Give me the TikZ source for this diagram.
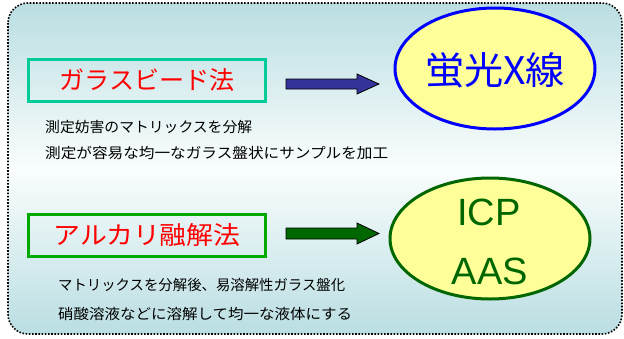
\documentclass[tikz,border=0pt]{standalone}
\usepackage{fontspec}
\setmainfont{Noto Sans CJK JP}
\newfontfamily\latinf{Liberation Sans}
\usetikzlibrary{shapes.geometric}
\newcommand{\fitw}[2]{\resizebox{#1}{\height}{#2}}
\definecolor{bgedge}{RGB}{186,222,226}
\definecolor{bgmid}{RGB}{250,253,253}
\definecolor{boxone}{RGB}{0,204,153}
\definecolor{boxtwo}{RGB}{0,170,0}
\definecolor{navy}{RGB}{51,51,153}
\definecolor{dgreen}{RGB}{0,102,0}
\definecolor{pale}{RGB}{255,255,153}
\tikzset{
  methodbox/.style={draw, line width=3pt, minimum width=237pt, minimum height=42pt, inner sep=0pt, text=red, font=\fontsize{25}{30}\selectfont},
  desc/.style={anchor=west, inner sep=0pt, font=\fontsize{14.5}{17}\selectfont},
  oval/.style={ellipse, draw, line width=3pt, fill=pale, minimum width=200pt, minimum height=121pt, inner sep=0pt},
  bigarrow/.style={draw=black, line width=0.8pt},
}
\begin{document}
\begin{tikzpicture}[x=1pt,y=-1pt]
\useasboundingbox (0,0) rectangle (624,338);
% background frame
\shade[rounded corners=20pt, top color=bgedge, bottom color=bgedge, middle color=bgmid] (8,3) rectangle (622,334);
\draw[rounded corners=20pt, line width=1.6pt, dash pattern=on 1.6pt off 1.6pt] (8,3) rectangle (622,334);

% top row
\node[methodbox, draw=boxone] (glass) at (147,80.5) {\fitw{175pt}{ガラスビード法}};
\node[oval, draw=blue] (xrf) at (495,68.5) {};
\node[text=blue, font=\fontsize{38}{44}\selectfont, inner sep=0pt] (xrft) at (495,70) {\fitw{140pt}{蛍光X線}};
\coordinate (a1s) at (286,84);
\coordinate (a1e) at (379,84);
\fill[navy] (a1s) ++(0,-5) -- ++(71,0) -- ++(0,-5) -- (a1e) -- ++(-22,10) -- ++(0,-5) -- ++(-71,0) -- cycle;
\draw[bigarrow] (a1s) ++(0,-5) -- ++(71,0) -- ++(0,-5) -- (a1e) -- ++(-22,10) -- ++(0,-5) -- ++(-71,0) -- cycle;
\node[desc] (g1) at (45,127) {\fitw{207pt}{測定妨害のマトリックスを分解}};
\node[desc] (g2) at (45,152.5) {\fitw{343pt}{測定が容易な均一なガラス盤状にサンプルを加工}};

% bottom row
\node[methodbox, draw=boxtwo] (alk) at (147,235.5) {\fitw{187pt}{アルカリ融解法}};
\node[oval, draw=dgreen] (icp) at (490,238.5) {};
\node[text=dgreen, font=\latinf\fontsize{38}{44}\selectfont, inner sep=0pt] (icpt) at (489,212) {ICP};
\node[text=dgreen, font=\latinf\fontsize{38}{44}\selectfont, inner sep=0pt] (aast) at (490,271) {AAS};
\coordinate (a2s) at (286,233.5);
\coordinate (a2e) at (379,233.5);
\fill[dgreen] (a2s) ++(0,-5.5) -- ++(71,0) -- ++(0,-5) -- (a2e) -- ++(-22,10.5) -- ++(0,-5) -- ++(-71,0) -- cycle;
\draw[bigarrow] (a2s) ++(0,-5.5) -- ++(71,0) -- ++(0,-5) -- (a2e) -- ++(-22,10.5) -- ++(0,-5) -- ++(-71,0) -- cycle;
\node[desc] (k1) at (58,285) {\fitw{287pt}{マトリックスを分解後、易溶解性ガラス盤化}};
\node[desc] (k2) at (58,314) {\fitw{294pt}{硝酸溶液などに溶解して均一な液体にする}};
\end{tikzpicture}
\end{document}
